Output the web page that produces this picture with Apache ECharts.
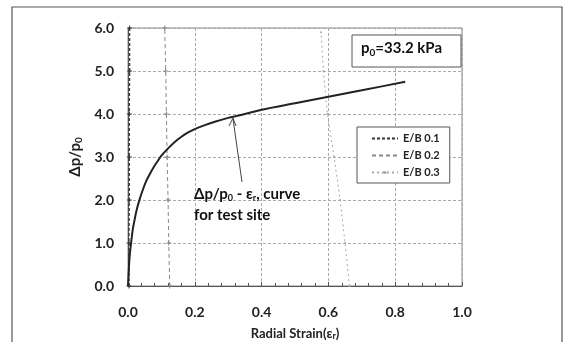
<!DOCTYPE html>
<html><head><meta charset="utf-8">
<script src="https://cdn.jsdelivr.net/npm/echarts@6/dist/echarts.min.js"></script>
<style>html,body{margin:0;padding:0;background:#fff}#c{width:567px;height:342px}</style>
</head><body><div id="c"></div>
<script>
const strain = [0,0.002,0.004,0.007,0.01,0.014,0.02,0.027,0.035,0.045,0.055,0.065,0.075,0.085,0.1,0.12,0.14,0.16,0.18,0.2,0.23,0.26,0.3,0.35,0.4,0.5,0.6,0.7,0.83];
const ratio  = [0,0.3,0.6,0.85,1.05,1.3,1.55,1.8,2.02,2.25,2.45,2.6,2.74,2.86,3.03,3.2,3.35,3.47,3.57,3.65,3.74,3.82,3.91,4.0,4.1,4.25,4.4,4.55,4.75];
const eb1X = [0.003,0.003,0.004,0.004,0.004,0.005,0.005];
const eb1Y = [0,1,2,3,4,5,6];
const eb2X = [0.125,0.122,0.12,0.117,0.115,0.113,0.11];
const eb2Y = [0,1,2,3,4,5,6];
const eb3X = [0.663,0.65,0.635,0.617,0.597,0.585,0.578];
const eb3Y = [0,1,2,3,4,5,5.9];
const legendNames = ['E/B 0.1','E/B 0.2','E/B 0.3'];

const zip = (a,b)=>a.map((v,i)=>[v,b[i]]);
const F = 'Lato, "Open Sans", sans-serif';
const chart = echarts.init(document.getElementById('c'));
chart.setOption({
  animation:false,
  backgroundColor:'#fff',
  grid:{left:128,top:28,right:105,bottom:56,show:true,borderColor:'#888',borderWidth:1,outerBoundsMode:'none',containLabel:false},
  xAxis:{type:'value',min:0,max:1,interval:0.2,
    axisLine:{show:true,lineStyle:{color:'#555'}},
    axisTick:{show:true,inside:true,length:4,lineStyle:{color:'#555'}},
    minorTick:{show:true,splitNumber:5,length:3,lineStyle:{color:'#555'}},
    axisLabel:{formatter:v=>v.toFixed(1),color:'#222',fontFamily:F,fontWeight:'bold',fontSize:14,margin:19},
    splitLine:{show:true,lineStyle:{type:[3,2],color:'#aaa'}},
    name:'{a|Radial Strain(ε}{s|r}{a|)}',nameLocation:'middle',nameGap:40,
    nameTextStyle:{rich:{a:{fontFamily:F,fontWeight:'bold',fontSize:13,color:'#222'},s:{fontFamily:F,fontWeight:'bold',fontSize:9,color:'#222',padding:[6,0,0,0]}}}
  },
  yAxis:{type:'value',min:0,max:6,interval:1,
    axisLine:{show:true,lineStyle:{color:'#555'}},
    axisTick:{show:false},
    axisLabel:{formatter:v=>v.toFixed(1),color:'#222',fontFamily:F,fontWeight:'bold',fontSize:14,margin:14},
    splitLine:{show:true,lineStyle:{type:[3,2],color:'#aaa'}},
    name:'{a|Δp/p}{s|0}',nameLocation:'middle',nameGap:38,nameRotate:90,
    nameTextStyle:{rich:{a:{fontFamily:F,fontWeight:'bold',fontSize:15,color:'#222'},s:{fontFamily:F,fontWeight:'bold',fontSize:10,color:'#222',padding:[7,0,0,0]}}}
  },
  legend:{data:legendNames,orient:'vertical',left:357,top:127,width:95,
    backgroundColor:'#fff',borderColor:'#555',borderWidth:1,padding:[6,10,5,14],itemGap:6,
    itemWidth:26,itemHeight:4,
    textStyle:{fontFamily:F,fontWeight:'bold',fontSize:11,color:'#222'}},
  series:[
    {name:'curve',type:'line',data:zip(strain,ratio),smooth:0.3,symbol:'none',
      lineStyle:{color:'#222',width:2},z:5},
    {name:legendNames[0],type:'line',data:zip(eb1X,eb1Y),symbol:'path://M0,5L10,5M5,0L5,10',symbolSize:5,
      itemStyle:{color:'#333',borderColor:'#333'},lineStyle:{color:'#333',type:[3,2],width:1.2}},
    {name:legendNames[1],type:'line',data:zip(eb2X,eb2Y),symbol:'path://M0,5L10,5M5,0L5,10',symbolSize:5,
      itemStyle:{color:'#888',borderColor:'#888'},lineStyle:{color:'#888',type:[4,3],width:1}},
    {name:legendNames[2],type:'line',data:zip(eb3X,eb3Y),symbol:'circle',symbolSize:2,
      itemStyle:{color:'#aaa'},lineStyle:{color:'#aaa',type:[2,3],width:1}}
  ],
  graphic:[
    {type:'rect',shape:{x:12,y:7,width:550,height:340},style:{fill:'none',stroke:'#555',lineWidth:1.2},silent:true},
    {type:'rect',shape:{x:352,y:35,width:109,height:32},style:{fill:'#fff',stroke:'#555',lineWidth:1},z:10},
    {type:'text',left:361,top:41,z:11,style:{text:'{a|p}{s|0}{a|=33.2 kPa}',
      rich:{a:{fontFamily:F,fontWeight:'bold',fontSize:15,fill:'#111'},s:{fontFamily:F,fontWeight:'bold',fontSize:10,fill:'#111',padding:[8,0,0,0]}}}},
    {type:'text',left:194,top:186,z:11,style:{text:'{a|Δp/p}{s|0}{a| - ε}{s|r}{a|, curve}\n{a|for test site}',
      rich:{a:{fontFamily:F,fontWeight:'bold',fontSize:15,fill:'#111',lineHeight:21},s:{fontFamily:F,fontWeight:'bold',fontSize:9,fill:'#111',padding:[8,0,0,0],lineHeight:21}}}},
    {type:'line',shape:{x1:242,y1:182,x2:233,y2:119},style:{stroke:'#444',lineWidth:1},z:11},
    {type:'polyline',shape:{points:[[229,126],[233,118],[236,126]]},style:{stroke:'#444',fill:'none',lineWidth:1},z:11}
  ]
});
</script></body></html>
